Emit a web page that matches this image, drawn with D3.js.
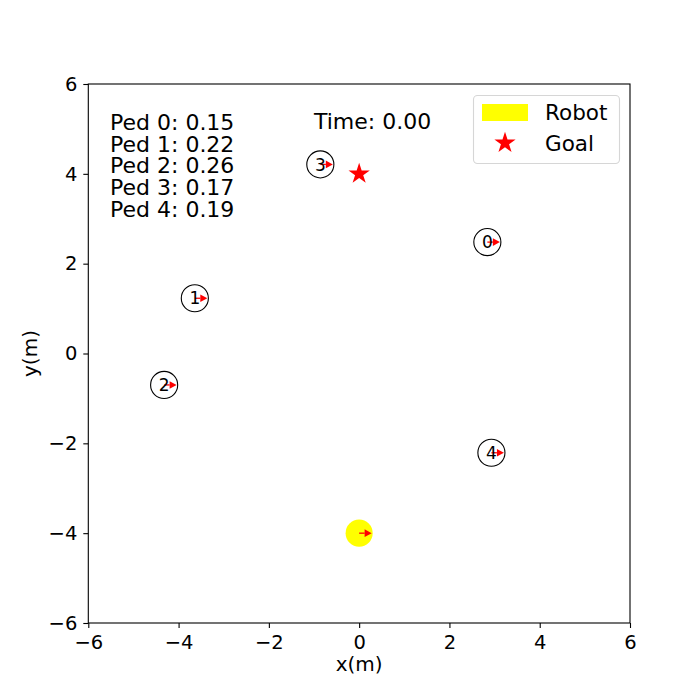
<!DOCTYPE html>
<html>
<head>
<meta charset="utf-8">
<script src="https://cdn.jsdelivr.net/npm/d3@7"></script>
<style>
  body { margin: 0; background: #fff; }
  svg { display: block; font-family: "DejaVu Sans", sans-serif; }
</style>
</head>
<body>
<div id="chart"></div>
<script>
// scene data at t = 0
const pedIds = [0, 1, 2, 3, 4];
const pedX = [2.84, -3.64, -4.32, -0.86, 2.93];
const pedY = [2.48, 1.23, -0.70, 4.21, -2.21];
const pedTheta = [0, 0, 0, 0, 0];
const pedScores = [0.15, 0.22, 0.26, 0.17, 0.19];
const robotPos = [0, -4];
const robotTheta = 0;
const goalPos = [0, 4];
const agentRadius = 0.3;
const timeNow = 0.00;
const axisTicks = [-6, -4, -2, 0, 2, 4, 6];

const svgWidth = 700;
const svgHeight = 700;
const plotBox = { left: 88.3, right: 630, top: 84, bottom: 623 };

const svg = d3.select("#chart")
  .append("svg")
  .attr("width", svgWidth)
  .attr("height", svgHeight);

const x = d3.scaleLinear().domain([-6, 6]).range([plotBox.left, plotBox.right]);
const y = d3.scaleLinear().domain([-6, 6]).range([plotBox.bottom, plotBox.top]);
const fmt = d3.format(".2f");

// axes
const xAxis = svg.append("g")
  .attr("transform", `translate(0, ${plotBox.bottom})`)
  .call(d3.axisBottom(x).tickValues(axisTicks).tickSize(5).tickPadding(7).tickFormat(d3.format("d")));
const yAxis = svg.append("g")
  .attr("transform", `translate(${plotBox.left}, 0)`)
  .call(d3.axisLeft(y).tickValues(axisTicks).tickSize(5).tickPadding(6).tickFormat(d3.format("d")));

[xAxis, yAxis].forEach(a => {
  a.select(".domain").remove();
  a.selectAll("line").attr("stroke", "#000").attr("stroke-width", 1.1);
  a.selectAll("text")
    .attr("font-family", "DejaVu Sans")
    .attr("font-size", 19.5)
    .attr("fill", "#000");
});

// spines
svg.append("rect")
  .attr("x", plotBox.left).attr("y", plotBox.top)
  .attr("width", plotBox.right - plotBox.left).attr("height", plotBox.bottom - plotBox.top)
  .attr("fill", "none")
  .attr("stroke", "#000")
  .attr("stroke-width", 1.1);

// axis labels
svg.append("text")
  .attr("x", (plotBox.left + plotBox.right) / 2)
  .attr("y", 671)
  .attr("text-anchor", "middle")
  .attr("font-size", 20)
  .text("x(m)");

svg.append("text")
  .attr("transform", `translate(37, ${(plotBox.top + plotBox.bottom) / 2}) rotate(-90)`)
  .attr("text-anchor", "middle")
  .attr("font-size", 20)
  .text("y(m)");

const plot = svg.append("g");
const rPx = x(agentRadius) - x(0);

// heading arrow from an agent's centre
function drawArrow(cx, cy, theta) {
  const len = 12.5, headLen = 7, headW = 3.8;
  const g = plot.append("g")
    .attr("transform", `translate(${cx}, ${cy}) rotate(${-theta * 180 / Math.PI})`);
  g.append("line")
    .attr("x1", 0).attr("y1", 0)
    .attr("x2", len - headLen).attr("y2", 0)
    .attr("stroke", "red")
    .attr("stroke-width", 1.3);
  g.append("path")
    .attr("d", `M${len},0 L${len - headLen},${-headW} L${len - headLen},${headW} Z`)
    .attr("fill", "red");
}

// robot
plot.append("circle")
  .attr("cx", x(robotPos[0]))
  .attr("cy", y(robotPos[1]))
  .attr("r", rPx)
  .attr("fill", "#ffff00");
drawArrow(x(robotPos[0]), y(robotPos[1]), robotTheta);

// goal
const star = d3.symbol().type(d3.symbolStar).size(140);
plot.append("path")
  .attr("d", star())
  .attr("transform", `translate(${x(goalPos[0])}, ${y(goalPos[1])})`)
  .attr("fill", "red");

// pedestrians
pedIds.forEach((id, i) => {
  const cx = x(pedX[i]), cy = y(pedY[i]);
  plot.append("circle")
    .attr("cx", cx).attr("cy", cy)
    .attr("r", rPx)
    .attr("fill", "none")
    .attr("stroke", "#000")
    .attr("stroke-width", 1.1);
  drawArrow(cx, cy, pedTheta[i]);
  plot.append("text")
    .attr("x", cx).attr("y", cy)
    .attr("text-anchor", "middle")
    .attr("dy", "0.36em")
    .attr("font-size", 17)
    .text(id);
});

// score text, one block of lines
const scoreText = svg.append("text")
  .attr("x", 110)
  .attr("y", 130)
  .attr("font-size", 22);
scoreText.selectAll("tspan")
  .data(pedIds)
  .enter()
  .append("tspan")
  .attr("x", 110)
  .attr("dy", (d, i) => i === 0 ? 0 : 21.7)
  .text((d, i) => `Ped ${d}: ${fmt(pedScores[i])}`);

svg.append("text")
  .attr("x", 314)
  .attr("y", 129)
  .attr("font-size", 22)
  .text(`Time: ${fmt(timeNow)}`);

// legend
const legend = svg.append("g");
legend.append("rect")
  .attr("x", 473.5).attr("y", 95.5)
  .attr("width", 146).attr("height", 68)
  .attr("rx", 4)
  .attr("fill", "#fff")
  .attr("fill-opacity", 0.8)
  .attr("stroke", "#d6d6d6")
  .attr("stroke-width", 1.1);
legend.append("rect")
  .attr("x", 482).attr("y", 104)
  .attr("width", 46).attr("height", 17)
  .attr("fill", "#ffff00");
legend.append("path")
  .attr("d", star())
  .attr("transform", "translate(505, 143)")
  .attr("fill", "red");
legend.append("text")
  .attr("x", 545).attr("y", 120)
  .attr("font-size", 21.5)
  .text("Robot");
legend.append("text")
  .attr("x", 545).attr("y", 151)
  .attr("font-size", 21.5)
  .text("Goal");
</script>
</body>
</html>
